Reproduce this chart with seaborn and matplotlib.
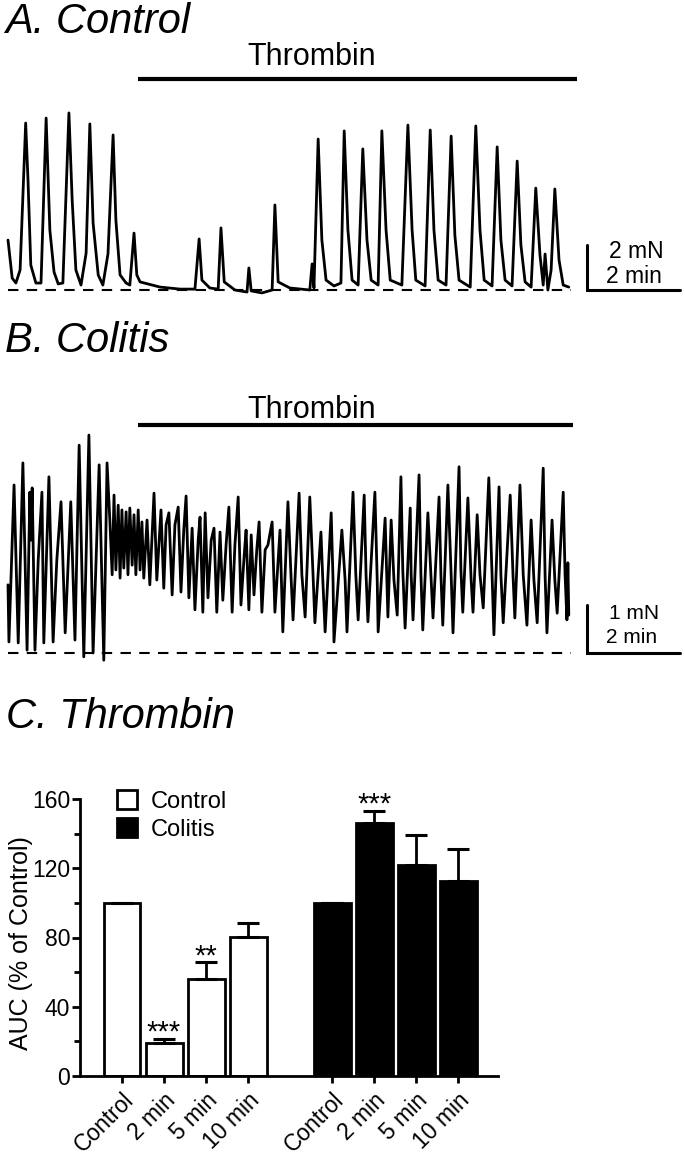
import pandas as pd
import seaborn as sns
import matplotlib.pyplot as plt
import matplotlib.transforms as mtrans
from matplotlib.patches import Patch

# --- A. Control trace: time (min) and force (mN) ---
a_time = [0.00, 0.09, 0.17, 0.26, 0.38, 0.43, 0.49, 0.60, 0.71, 0.82,
          0.90, 0.99, 1.08, 1.18, 1.31, 1.38, 1.46, 1.57, 1.68, 1.76,
          1.83, 1.94, 2.04, 2.15, 2.26, 2.32, 2.41, 2.54, 2.62, 2.71,
          2.77, 2.84, 3.27, 3.70, 4.02, 4.11, 4.17, 4.34, 4.52, 4.58,
          4.65, 4.88, 5.14, 5.18, 5.23, 5.46, 5.68, 5.74, 5.81, 6.06,
          6.49, 6.54, 6.58, 6.67, 6.75, 6.84, 7.01, 7.16, 7.23, 7.31,
          7.40, 7.53, 7.63, 7.72, 7.81, 7.96, 8.04, 8.13, 8.22, 8.47,
          8.60, 8.69, 8.77, 8.97, 9.08, 9.16, 9.25, 9.42, 9.53, 9.61,
          9.70, 9.94, 10.06, 10.15, 10.24, 10.41, 10.52, 10.60, 10.69, 10.84,
          10.95, 11.03, 11.12, 11.25, 11.35, 11.44, 11.51, 11.55, 11.61, 11.68,
          11.76, 11.85, 11.94, 12.06]
a_force = [2.22, 0.53, 0.31, 0.89, 7.42, 4.89, 1.11, 0.31, 0.31, 7.64,
           2.67, 0.80, 0.27, 0.31, 7.87, 4.00, 0.89, 0.22, 1.64, 7.38,
           2.98, 0.67, 0.22, 1.60, 6.89, 3.11, 0.67, 0.31, 0.22, 2.53,
           0.67, 0.36, 0.13, 0.04, 0.04, 2.27, 0.44, 0.09, 0.04, 2.76,
           0.36, 0.00, -0.09, 0.98, -0.04, -0.13, 0.00, 3.78, 0.36, 0.09,
           0.00, 1.16, 0.09, 6.71, 2.22, 0.44, 0.18, 0.31, 7.07, 2.67,
           0.44, 0.22, 6.27, 2.22, 0.44, 0.22, 7.07, 2.67, 0.44, 0.22,
           7.33, 2.67, 0.44, 0.18, 7.11, 2.67, 0.44, 0.22, 6.84, 2.44,
           0.44, 0.13, 7.29, 2.67, 0.44, 0.18, 6.36, 2.22, 0.44, 0.18,
           5.73, 2.00, 0.36, 0.13, 4.53, 1.56, 0.22, 1.60, 0.00, 0.89,
           4.49, 1.33, 0.22, 0.13]

# --- B. Colitis trace ---
b_time = [0.00, 0.02, 0.13, 0.22, 0.32, 0.41, 0.47, 0.49, 0.52, 0.58,
          0.65, 0.73, 0.77, 0.88, 0.97, 1.05, 1.14, 1.23, 1.35, 1.44,
          1.53, 1.63, 1.74, 1.83, 1.96, 2.06, 2.13,
          2.19, 2.24, 2.28, 2.32, 2.37, 2.41, 2.45, 2.49, 2.54, 2.58,
          2.62, 2.67, 2.71, 2.75, 2.80, 2.84, 2.88, 2.92, 2.99, 3.05,
          3.14, 3.20, 3.29, 3.35, 3.40, 3.46, 3.53, 3.59, 3.66, 3.72,
          3.78, 3.83, 3.89, 3.96, 4.02, 4.09, 4.13, 4.19, 4.24, 4.30,
          4.37, 4.43, 4.49, 4.56, 4.62, 4.69, 4.75, 4.82, 4.88, 4.95,
          5.01, 5.08, 5.12, 5.18, 5.23, 5.29, 5.35, 5.40, 5.46, 5.53,
          5.59, 5.68, 5.74, 5.81, 5.85, 5.91,
          6.02, 6.09, 6.13, 6.26, 6.32, 6.39, 6.49, 6.56, 6.60, 6.73,
          6.77, 6.82, 6.95, 6.99, 7.01, 7.18, 7.25, 7.29, 7.42, 7.48,
          7.53, 7.66, 7.70, 7.74, 7.89, 7.94, 7.96, 8.11, 8.17, 8.24,
          8.30, 8.37, 8.45, 8.49, 8.54, 8.65, 8.67, 8.71, 8.84, 8.88,
          8.92,
          9.03, 9.10, 9.14, 9.27, 9.31, 9.35, 9.46, 9.53, 9.57, 9.70,
          9.74, 9.78, 9.89, 9.96, 10.00, 10.09, 10.15, 10.22, 10.34, 10.41,
          10.45, 10.56, 10.60, 10.65, 10.80, 10.86, 10.90, 11.01, 11.08, 11.16,
          11.25, 11.31, 11.38, 11.51, 11.55, 11.59, 11.70, 11.76, 11.81, 11.94,
          11.98, 12.02, 12.04, 12.06]
b_force = [1.42, 0.23, 3.50, 0.21, 3.96, 0.06, 3.35, 2.35, 3.44, 0.06,
           1.94, 3.35, 0.21, 3.67, 0.23, 1.94, 3.15, 0.42, 3.15, 0.27,
           4.33, -0.08, 4.54, 0.00, 3.92, -0.15, 3.96,
           2.77, 1.63, 3.29, 1.73, 3.08, 1.56, 2.98, 1.77, 2.94, 1.63,
           3.02, 1.83, 2.88, 1.63, 2.98, 1.73, 2.73, 1.56, 2.77, 1.42,
           3.33, 1.52, 2.98, 1.35, 2.67, 2.92, 1.21, 2.67, 3.04, 1.27,
           2.56, 3.27, 1.15, 2.60, 0.90, 2.35, 2.83, 0.85, 2.92, 1.15,
           2.35, 2.60, 0.85, 2.52, 1.10, 2.25, 3.04, 0.85, 2.25, 3.25,
           1.00, 2.04, 2.56, 0.90, 2.46, 1.21, 2.15, 2.73, 0.85, 2.15,
           2.25, 2.73, 0.85, 1.94, 2.56, 0.44,
           3.15, 1.52, 0.69, 3.33, 1.63, 0.75, 3.25, 1.63, 0.63, 2.52,
           1.52, 0.44, 2.92, 1.52, 0.23, 2.56, 1.52, 0.44, 3.35, 1.63,
           0.69, 3.29, 1.63, 0.65, 3.35, 1.52, 0.44, 2.81, 0.75, 2.77,
           1.52, 0.79, 3.67, 1.73, 0.52, 3.02, 1.63, 0.69, 3.71, 1.63,
           0.48,
           2.92, 1.52, 0.73, 3.25, 1.63, 0.58, 3.50, 1.63, 0.42, 3.88,
           1.73, 0.85, 3.23, 1.52, 0.85, 2.88, 1.63, 0.94, 3.65, 1.63,
           0.38, 3.46, 1.63, 0.63, 3.29, 1.63, 0.73, 3.50, 1.63, 0.58,
           2.77, 1.52, 0.63, 3.85, 1.63, 0.42, 2.77, 1.52, 0.83, 3.35,
           1.63, 0.69, 1.88, 0.79]

# thrombin application (min)
thrombin_a = (2.80, 12.24)
thrombin_b = (2.80, 12.15)

# --- C. AUC bar data ---
groups = ['Control'] * 4 + ['Colitis'] * 4
times = ['Control', '2 min', '5 min', '10 min'] * 2
auc_mean = [100, 19.3, 55.8, 80.3, 100, 146.1, 122.0, 112.9]
auc_sem = [0, 2.3, 9.8, 8.3, 0, 7.2, 17.2, 18.4]
stars = ['', '***', '**', '', '', '***', '', '']

sns.set_style('ticks')
plt.rcParams['font.family'] = ['Liberation Sans', 'DejaVu Sans']
plt.rcParams.update({'text.color': 'black', 'axes.labelcolor': 'black',
                     'xtick.color': 'black', 'ytick.color': 'black',
                     'axes.edgecolor': 'black'})

W, H = 685, 1156
fig = plt.figure(figsize=(W / 100, H / 100), dpi=100)


def px_axes(x0, y0, x1, y1):
    return fig.add_axes([x0 / W, 1 - y1 / H, (x1 - x0) / W, (y1 - y0) / H])


def trace_panel(ax, t, f, lw, thrombin, text_y, bar_y, mn, mn_label, text_ys, fs):
    sns.lineplot(x=t, y=f, sort=False, estimator=None, color='black',
                 lw=lw, ax=ax)
    ax.plot([0, 12.1], [0, 0], color='black', lw=1.5, ls=(0, (5, 4)))
    ax.plot(thrombin, [bar_y, bar_y], color='black', lw=3, solid_capstyle='butt')
    ax.text(6.54, text_y, 'Thrombin', ha='center', va='baseline', fontsize=22)
    # scale bar
    sx = 12.45
    ax.plot([sx, sx, sx + 2], [mn, 0, 0], color='black', lw=2.2,
            solid_joinstyle='miter')
    ax.text(12.92, text_ys[0], mn_label, ha='left', va='baseline', fontsize=fs)
    ax.text(12.86, text_ys[1], '2 min', ha='left', va='baseline', fontsize=fs)
    ax.set_xlim(-8 / 46.5, 677 / 46.5)
    ax.axis('off')


ax_a = px_axes(0, 40, W, 300)
ax_a.set_ylim(-0.444, 11.11)
trace_panel(ax_a, a_time, a_force, 2.0, thrombin_a, 10.0, 9.38, 2, '2 mN',
            (1.42, 0.31), 16.5)

ax_b = px_axes(0, 390, W, 665)
ax_b.set_ylim(-0.25, 5.479)
trace_panel(ax_b, b_time, b_force, 2.0, thrombin_b, 4.90, 4.75, 1, '1 mN',
            (0.70, 0.21), 15)

fig.text(5 / W, 1 - 33 / H, 'A. Control', style='italic', fontsize=30, va='baseline')
fig.text(5 / W, 1 - 352 / H, 'B. Colitis', style='italic', fontsize=30, va='baseline')
fig.text(6 / W, 1 - 728 / H, 'C. Thrombin', style='italic', fontsize=30, va='baseline')

# --- bar chart ---
ax_c = px_axes(80, 799, 498, 1076)
df = pd.DataFrame({'group': groups, 'time': times, 'auc': auc_mean})
df['key'] = df['group'] + ' ' + df['time']
order = list(df['key'][:4]) + [''] + list(df['key'][4:])
sns.barplot(data=df, x='key', y='auc', hue='group', order=order,
            palette={'Control': 'white', 'Colitis': 'black'}, dodge=False,
            edgecolor='black', linewidth=2, width=0.88, errorbar=None,
            legend=False, ax=ax_c)
pos = [order.index(k) for k in df['key']]
ax_c.errorbar(pos, auc_mean, yerr=[[0] * 8, auc_sem], fmt='none', ecolor='black',
              elinewidth=2, capsize=8, capthick=2.2)
for p, m, s, st in zip(pos, auc_mean, auc_sem, stars):
    if st:
        ax_c.text(p, m + s - 1, st, ha='center', va='baseline', fontsize=21)

ax_c.set_xlim(-1.0, 8.95)
ax_c.set_ylim(0, 160)
ax_c.set_yticks([0, 40, 80, 120, 160])
ax_c.set_yticks([20, 60, 100, 140], minor=True)
ax_c.set_xticks(pos)
ax_c.set_xticklabels(times, rotation=45, ha='right', va='top',
                     rotation_mode='anchor', fontsize=16.5)
shift = mtrans.ScaledTranslation(7 / 100, 0, fig.dpi_scale_trans)
for lab in ax_c.get_xticklabels():
    lab.set_transform(lab.get_transform() + shift)
ax_c.tick_params(axis='y', labelsize=16.5, width=2, length=6, pad=1)
ax_c.tick_params(axis='y', which='minor', width=2, length=4)
ax_c.tick_params(axis='x', width=2, length=5, pad=4)
ax_c.set_xlabel('')
ax_c.set_ylabel('AUC (% of Control)', fontsize=18)
ax_c.yaxis.set_label_coords(-0.112, 0.48)
for side in ['left', 'bottom']:
    ax_c.spines[side].set_linewidth(2)
sns.despine(ax=ax_c)

handles = [Patch(facecolor='white', edgecolor='black', lw=2, label='Control'),
           Patch(facecolor='black', edgecolor='black', lw=2, label='Colitis')]
fig.legend(handles=handles, loc='upper left', bbox_to_anchor=(117 / W, 1 - 790 / H),
           frameon=False, fontsize=17, handlelength=0.85, handleheight=0.85,
           handletextpad=0.6, labelspacing=0.25, borderpad=0, borderaxespad=0)

fig.savefig('out.png', dpi=100)
